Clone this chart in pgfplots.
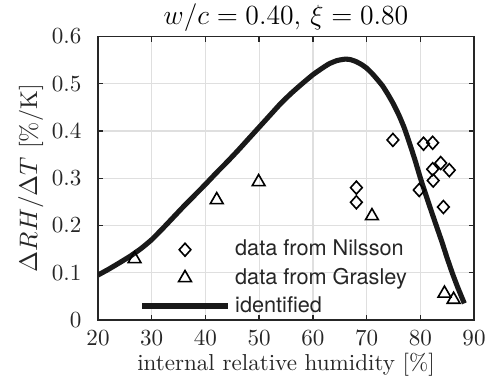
\documentclass[border=0pt]{standalone}
\usepackage{fontspec}
\usepackage{pgfplots}
\pgfplotsset{compat=1.18}
\newfontfamily\legendfont{TeX Gyre Heros}
\definecolor{gridgray}{RGB}{223,223,223}
\definecolor{axgray}{RGB}{38,38,38}
\definecolor{curve}{RGB}{25,25,25}
\begin{document}
\begin{tikzpicture}
\begin{axis}[
  at={(0pt,0pt)}, anchor=south west,
  scale only axis,
  width=163pt, height=122.9pt,
  xmin=20, xmax=90, ymin=0, ymax=0.6,
  xtick={20,30,40,50,60,70,80,90},
  ytick={0,0.1,0.2,0.3,0.4,0.5,0.6},
  yticklabels={0,0.1,0.2,0.3,0.4,0.5,0.6},
  tick align=inside,
  major tick length=2.2pt,
  grid=major,
  major grid style={gridgray, line width=0.55pt},
  axis line style={axgray, line width=0.7pt},
  every tick/.style={axgray, line width=0.6pt},
  tick label style={font=\fontsize{10}{12}\selectfont, text=axgray},
  yticklabel style={xshift=-3.7pt},
  xticklabel style={yshift=-1pt},
  title={$w/c=0.40,\,\xi=0.80$},
  title style={at={(0.5,1)}, anchor=center, yshift=2.2pt, font=\fontsize{11.5}{13}\selectfont},
  xlabel={internal relative humidity [\%]},
  xlabel style={at={(0.5,0)}, anchor=center, yshift=-19.3pt, font=\fontsize{10}{12}\selectfont, text=axgray},
  ylabel={$\Delta RH/\Delta T$ [\%/K]},
  ylabel style={at={(axis description cs:-0.1786,0.5)}, anchor=center, font=\fontsize{10.5}{12}\selectfont, text=axgray},
  legend image code/.code={\draw[mark repeat=2,mark phase=2,#1] plot coordinates {(0pt,0pt) (18.45pt,0pt) (36.9pt,0pt)};},
  legend cell align=left,
  legend style={at={(axis cs:27.8,0.089)}, anchor=west, draw=none, fill=none,
    inner sep=0pt, outer sep=0pt,
    font=\legendfont\fontsize{9.4}{11}\selectfont, text=axgray,
    nodes={inner xsep=2.2pt, inner ysep=1.4pt, text height=7.4pt, text depth=2pt},
    cells={anchor=west}},
]
\addplot[only marks, mark=diamond, mark size=2.8pt,
  mark options={solid, xscale=1.2, draw=black, fill=none, line width=0.7pt}]
  table {
x y
74.9 0.381
80.6 0.373
82.3 0.375
83.8 0.332
82.3 0.319
85.4 0.317
82.4 0.295
79.8 0.275
84.3 0.239
68.1 0.280
68.1 0.249
};
\addlegendentry{data from Nilsson}
\addplot[only marks, mark=triangle, mark size=3.2pt,
  mark options={solid, draw=black, fill=none, line width=0.7pt}]
  table {
x y
26.8 0.129
42.1 0.254
49.9 0.292
71.0 0.220
84.5 0.056
86.2 0.043
};
\addlegendentry{data from Grasley}
\addplot[curve, line width=2.2pt, smooth, tension=0.3] table {
x y
20 0.095
22 0.1075
24 0.121
26 0.135
28 0.151
30 0.170
32 0.193
34 0.217
36 0.241
38 0.264
40 0.287
42 0.311
44 0.334
46 0.358
48 0.383
50 0.408
52 0.433
54 0.458
56 0.480
58 0.500
60 0.519
61.5 0.531
63 0.542
64.5 0.549
66 0.552
67 0.551
68 0.547
69 0.541
70 0.533
71 0.522
72 0.509
73 0.495
74 0.477
75 0.457
76 0.434
77 0.407
78 0.374
79 0.339
80 0.301
81 0.266
82 0.232
83 0.199
84 0.166
85 0.131
86 0.098
87 0.068
88.2 0.035
};
\addlegendentry{identified}
\end{axis}
\pgfresetboundingbox
\useasboundingbox (-42.5pt,-29.5pt) rectangle (170.8pt,138.7pt);
\end{tikzpicture}
\end{document}
